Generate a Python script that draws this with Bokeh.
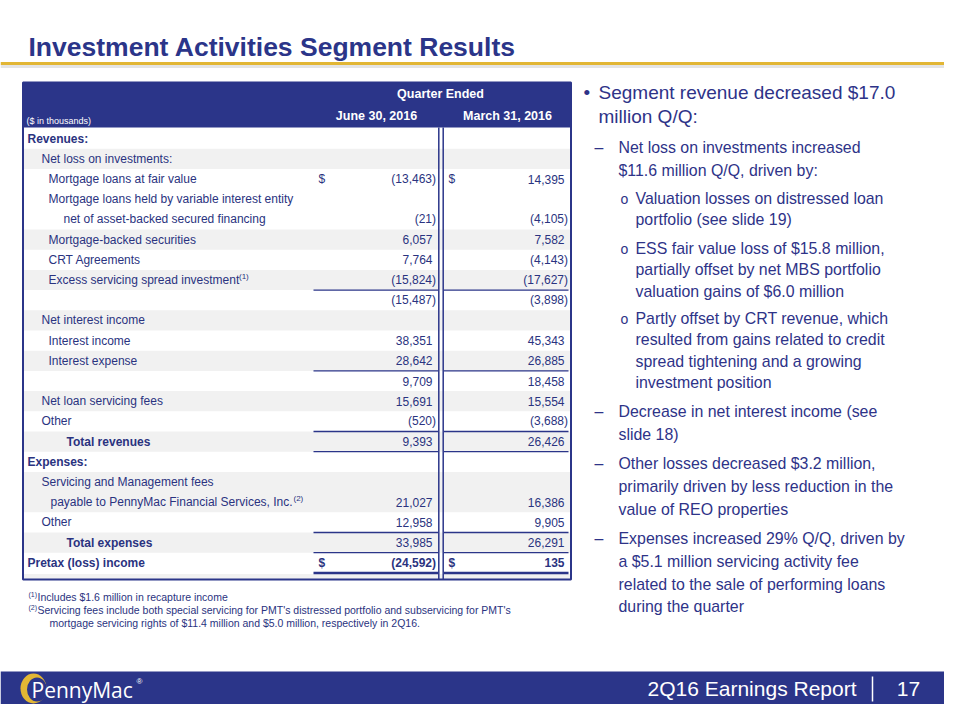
from bokeh.plotting import figure
from bokeh.models import Range1d, ColumnDataSource
from bokeh.core.properties import value
from bokeh.embed import file_html
from bokeh.resources import INLINE

# ---------------- data ----------------
title_text = "Investment Activities Segment Results"
col_group = "Quarter Ended"
col_periods = ["June 30, 2016", "March 31, 2016"]
units_note = "($ in thousands)"

row_labels = [
    "Revenues:",
    "Net loss on investments:",
    "Mortgage loans at fair value",
    "Mortgage loans held by variable interest entity",
    "net of asset-backed secured financing",
    "Mortgage-backed securities",
    "CRT Agreements",
    "Excess servicing spread investment",
    "",
    "Net interest income",
    "Interest income",
    "Interest expense",
    "",
    "Net loan servicing fees",
    "Other",
    "Total revenues",
    "Expenses:",
    "Servicing and Management fees",
    "payable to PennyMac Financial Services, Inc.",
    "Other",
    "Total  expenses",
    "Pretax (loss) income",
]
june_2016 = [None, None, -13463, None, -21, 6057, 7764, -15824, -15487, None,
             38351, 28642, 9709, 15691, -520, 9393, None, None, 21027, 12958,
             33985, -24592]
march_2016 = [None, None, 14395, None, -4105, 7582, -4143, -17627, -3898, None,
              45343, 26885, 18458, 15554, -3688, 26426, None, None, 16386, 9905,
              26291, 135]
footnote_refs = {7: "(1)", 18: "(2)"}
footnotes = [
    ("(1)", "Includes $1.6 million  in recapture income"),
    ("(2)", "Servicing fees include both special servicing for PMT's  distressed portfolio and subservicing for PMT's"),
    ("", "mortgage servicing rights of $11.4 million  and $5.0 million,  respectively in 2Q16."),
]
commentary = [
    (0, ["Segment revenue decreased $17.0", "million Q/Q:"]),
    (1, ["Net loss on investments  increased", "$11.6  million  Q/Q,  driven  by:"]),
    (2, ["Valuation losses on distressed loan", "portfolio (see slide 19)"]),
    (2, ["ESS fair value  loss of $15.8 million,", "partially offset by net MBS portfolio", "valuation  gains of $6.0 million"]),
    (2, ["Partly offset by CRT revenue,  which", "resulted from gains related to credit", "spread tightening  and a growing", "investment  position"]),
    (1, ["Decrease  in net  interest  income  (see", "slide  18)"]),
    (1, ["Other  losses  decreased  $3.2  million,", "primarily  driven  by less  reduction  in the", "value  of REO  properties"]),
    (1, ["Expenses  increased  29% Q/Q,  driven  by", "a $5.1  million  servicing  activity  fee", "related  to the  sale  of performing  loans", "during  the  quarter"]),
]
footer_text = "2Q16 Earnings Report"
page_number = "17"
logo_text = "PennyMac"

# ---------------- styles / layout ----------------
NAVY = "#2B3589"
TXT = "#2A3380"
RTXT = "#2E3388"
GOLD = "#E2B634"
SHADE = "#F1F1F1"
FONT = "Liberation Sans"

label_indent = [27, 41, 48, 48, 63, 48, 48, 48, 48, 41, 48, 48, 48, 41, 41, 66,
                27, 41, 50, 41, 66, 27]
bold_label_rows = {0, 15, 16, 20, 21}
bold_value_rows = {21}
shaded_rows = [1, 5, 7, 9, 11, 13, 15, 17, 18, 20]
rule_tops = [8, 12, 15, 16, 20, 21]
dollar_rows = [2, 21]

ROW0, RH = 128.0, 20.2
T_LEFT, T_RIGHT, T_TOP, T_BOT = 22.5, 570.5, 82.0, 579.0
HEAD_BOT = 127.0
SEP1, SEP2 = 438.3, 442.7
J_L, J_R = 313.0, 437.5
M_L, M_R = 443.5, 568.0
FOOT_Y = 688


def row_y(i):
    return ROW0 + RH * (i + 0.5)


p = figure(width=944, height=704, output_backend="svg", toolbar_location=None,
           x_range=Range1d(0, 944), y_range=Range1d(704, 0),
           min_border=0, background_fill_color="white", border_fill_color="white")
p.axis.visible = False
p.grid.visible = False
p.outline_line_color = None


def txt(xs, ys, texts, size, color=TXT, align="left", style="normal",
        font=FONT, baseline="middle"):
    src = ColumnDataSource(dict(x=list(xs), y=list(ys), t=list(texts)))
    p.text(x="x", y="y", text="t", source=src, text_font=value(font),
           text_font_size=value(size), text_color=color, text_align=align,
           text_baseline=baseline, text_font_style=style)


# ---------- title ----------
txt([28], [46], [title_text], "26.5px", color=NAVY, style="bold")
p.quad(left=[0], right=[960], top=[61.5], bottom=[64.5], fill_color=GOLD, line_color=None)
p.quad(left=[0], right=[960], top=[64.5], bottom=[67.5], fill_color="#D9D9D9",
       line_color=None, fill_alpha=0.7)

# ---------- table ----------
p.quad(left=[T_LEFT] * len(shaded_rows), right=[T_RIGHT] * len(shaded_rows),
       top=[ROW0 + RH * i for i in shaded_rows],
       bottom=[ROW0 + RH * (i + 1) for i in shaded_rows],
       fill_color=SHADE, line_color=None)
p.quad(left=[T_LEFT], right=[T_RIGHT], top=[ROW0 + RH * len(row_labels) + 1],
       bottom=[T_BOT], fill_color=SHADE, line_color=None)
p.quad(left=[T_LEFT], right=[T_RIGHT], top=[T_TOP], bottom=[HEAD_BOT],
       fill_color=NAVY, line_color=None)
txt([440], [93], [col_group], "12.5px", color="white", align="center", style="bold")
txt([376, 507], [115, 115], col_periods, "12.5px", color="white", align="center", style="bold")
txt([26], [120], [units_note], "9px", color="white")

p.segment(x0=[SEP1, SEP2], y0=[HEAD_BOT, HEAD_BOT], x1=[SEP1, SEP2], y1=[T_BOT, T_BOT],
          line_color=NAVY, line_width=1.5)

ry = [ROW0 + RH * i for i in rule_tops]
p.segment(x0=[J_L] * len(ry) + [M_L] * len(ry), x1=[J_R] * len(ry) + [M_R] * len(ry),
          y0=ry + ry, y1=ry + ry, line_color=NAVY, line_width=1.3)
yb = ROW0 + RH * len(row_labels)
p.segment(x0=[J_L, M_L], x1=[J_R, M_R], y0=[yb, yb], y1=[yb, yb],
          line_color=NAVY, line_width=2.5)

p.quad(left=[T_LEFT], right=[T_RIGHT], top=[T_TOP], bottom=[T_BOT],
       fill_color=None, line_color=NAVY, line_width=2)

for bold in (False, True):
    idx = [i for i, l in enumerate(row_labels) if l and ((i in bold_label_rows) == bold)]
    txt([label_indent[i] for i in idx], [row_y(i) for i in idx],
        [row_labels[i] for i in idx], "12px", style="bold" if bold else "normal")

ref_x = {7: 238.5, 18: 293}
txt([ref_x[i] for i in footnote_refs], [row_y(i) - 4 for i in footnote_refs],
    list(footnote_refs.values()), "8px")


def fmt(v):
    return "({:,})".format(-v) if v < 0 else "{:,}".format(v)


for col, right in ((june_2016, J_R - 2), (march_2016, M_R - 0.5)):
    for bold in (False, True):
        idx = [i for i, v in enumerate(col) if v is not None and ((i in bold_value_rows) == bold)]
        xs = [right if col[i] < 0 else right - 3.5 for i in idx]
        txt(xs, [row_y(i) for i in idx], [fmt(col[i]) for i in idx], "12px",
            align="right", style="bold" if bold else "normal")

for r in dollar_rows:
    st = "bold" if r in bold_value_rows else "normal"
    txt([318, 448], [row_y(r)] * 2, ["$", "$"], "12px", style=st)

# ---------- footnotes ----------
fn_y = [596, 609, 622]
for k, (ref, line) in enumerate(footnotes):
    if ref:
        txt([28], [fn_y[k] - 2], [ref], "7px")
        txt([37], [fn_y[k]], [line], "10.5px")
    else:
        txt([49], [fn_y[k]], [line], "10.5px")

# ---------- commentary ----------
level_x = {0: 598, 1: 618, 2: 635}
marker = {0: ("\u2022", 583), 1: ("\u2013", 594), 2: ("o", 620)}
level_size = {0: "19px", 1: "15.9px", 2: "15.9px"}
level_step = {0: 24, 1: 22.8, 2: 21.3}
start_y = [92, 147, 198, 248, 318, 411, 463, 538]
for k, (lvl, lines) in enumerate(commentary):
    y0 = start_y[k]
    ys = [y0 + level_step[lvl] * j for j in range(len(lines))]
    txt([level_x[lvl]] * len(lines), ys, lines, level_size[lvl], color=RTXT)
    m, mx = marker[lvl]
    txt([mx], [y0], [m], "14px" if lvl == 2 else level_size[lvl], color=RTXT)

# ---------- footer ----------
p.quad(left=[0], right=[960], top=[671], bottom=[720], fill_color=NAVY, line_color=None)
txt([856], [FOOT_Y], [footer_text], "21px", color="white", align="right")
p.segment(x0=[872], x1=[872], y0=[676], y1=[701], line_color="white", line_width=1.5)
txt([908], [FOOT_Y], [page_number], "21px", color="white", align="center")
p.ellipse(x=[33], y=[FOOT_Y], width=[26], height=[30], fill_color=GOLD, line_color=None)
p.ellipse(x=[36.5], y=[FOOT_Y + 1], width=[20], height=[24], fill_color=NAVY, line_color=None)
txt([31], [FOOT_Y + 1], [logo_text], "21px", color="white", font="Open Sans")
txt([136], [FOOT_Y - 7], ["\u00ae"], "8px", color="white")

open("out.html", "w").write(file_html(p, INLINE))
